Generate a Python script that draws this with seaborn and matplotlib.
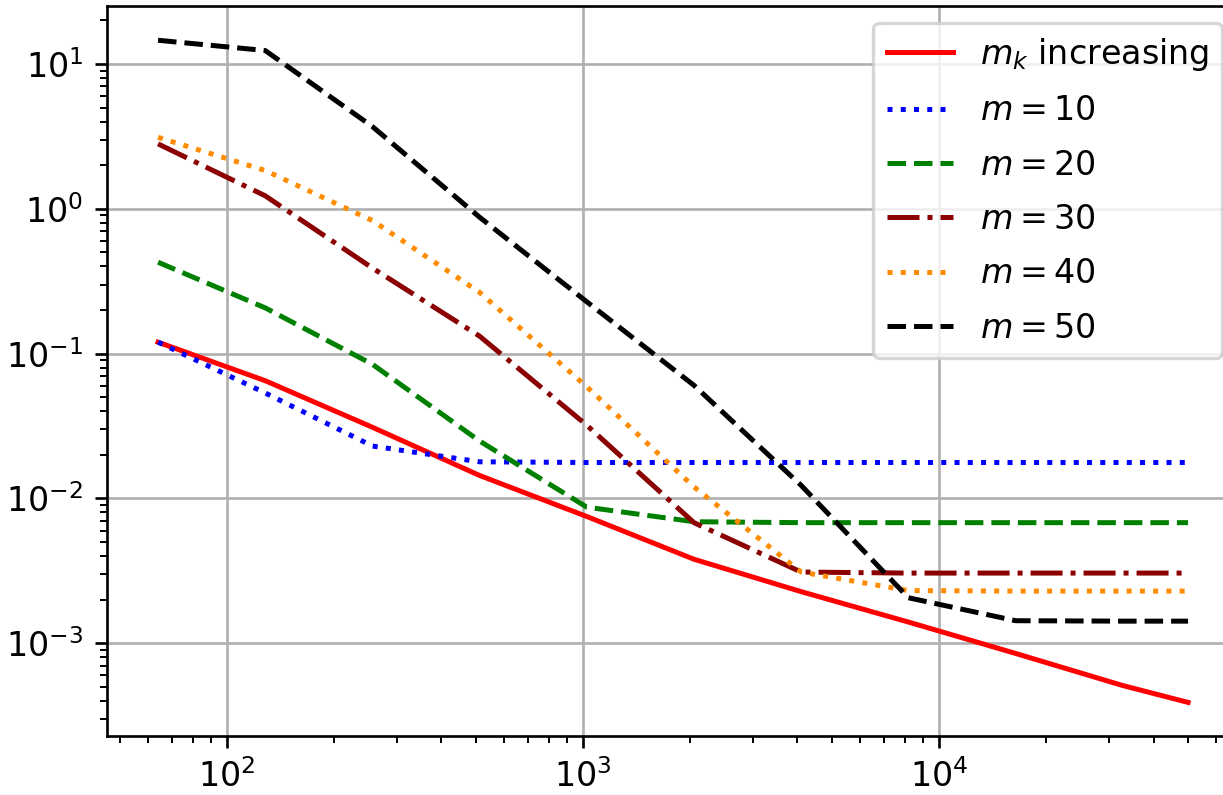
import numpy as np
import pandas as pd
import matplotlib
matplotlib.use("Agg")
import matplotlib.pyplot as plt
import seaborn as sns

# ---- data ----
x_vals = [64, 128, 256, 512, 1024, 2048, 4096, 8192, 16384, 32768, 50000]
mk_increasing = [0.12, 0.065, 0.031, 0.0144, 0.0075, 0.0038, 0.00227, 0.0014, 0.00085, 0.00051, 0.00039]
m10 = [0.12, 0.0535, 0.023, 0.0179, 0.0177, 0.0177, 0.0177, 0.0177, 0.0177, 0.0177, 0.0177]
m20 = [0.428, 0.207, 0.0844, 0.0249, 0.0087, 0.0069, 0.0068, 0.0068, 0.0068, 0.0068, 0.0068]
m30 = [2.81, 1.23, 0.39, 0.132, 0.032, 0.0068, 0.0031, 0.00305, 0.00305, 0.00305, 0.00305]
m40 = [3.12, 1.84, 0.83, 0.265, 0.059, 0.012, 0.0031, 0.00231, 0.00229, 0.00229, 0.00229]
m50 = [14.6, 12.4, 3.7, 0.875, 0.228, 0.0604, 0.0123, 0.00206, 0.00143, 0.00142, 0.00142]

labels = [r"$m_k$ increasing", r"$m = 10$", r"$m = 20$", r"$m = 30$", r"$m = 40$", r"$m = 50$"]
series = [mk_increasing, m10, m20, m30, m40, m50]
colors = ["red", "blue", "green", "darkred", "darkorange", "black"]
styles = ["-", ":", "--", "-.", ":", "--"]

W, H, DPI = 1223, 795, 240
fig = plt.figure(figsize=(W / DPI, H / DPI), dpi=DPI)
ax = fig.add_axes([106.7 / W, (H - 736) / H, (1239 - 106.7) / W, (736 - 6) / H])

for lab, ys, c, ls in zip(labels, series, colors, styles):
    df = pd.DataFrame({"x": x_vals, "y": ys})
    sns.lineplot(data=df, x="x", y="y", ax=ax, color=c, linestyle=ls,
                 linewidth=1.5, label=lab, errorbar=None)

ax.set_xscale("log")
ax.set_yscale("log")
ax.set_xlim(10 ** 1.662, 10 ** 4.842)
ax.set_ylim(10 ** -3.641, 10 ** 1.401)
ax.set_xlabel("")
ax.set_ylabel("")
ax.grid(True, which="major")
ax.legend(loc="upper right", labelspacing=0.64)

fig.savefig("out.png", dpi=DPI)
